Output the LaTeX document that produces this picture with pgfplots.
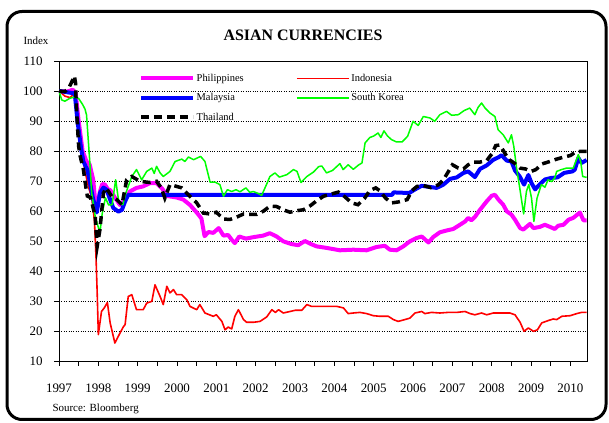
\documentclass[border=0pt]{standalone}
\usepackage{fontspec}
\setmainfont{Liberation Serif}
\usepackage{pgfplots}
\pgfplotsset{compat=1.18}
\definecolor{pmag}{RGB}{255,0,255}
\definecolor{ired}{RGB}{255,0,0}
\definecolor{mblue}{RGB}{0,0,255}
\definecolor{kgreen}{RGB}{0,255,0}
\begin{document}
\begin{tikzpicture}
\path[use as bounding box] (0,0) rectangle (609bp,423bp);
\draw[line width=3bp, rounded corners=15bp] (7bp,3.5bp) rectangle (606bp,411.5bp);
\node[font=\fontsize{16}{16}\selectfont\bfseries] at (303bp,388bp) {ASIAN CURRENCIES};
\node[font=\fontsize{11}{11}\selectfont] at (36bp,382bp) {Index};
\node[font=\fontsize{11}{11}\selectfont, anchor=west] at (49bp,14bp) {Source: Bloomberg};
\begin{axis}[
  at={(59bp,62bp)}, anchor=south west,
  scale only axis, width=528bp, height=300bp,
  xmin=1997, xmax=2010.42, ymin=10, ymax=110,
  axis line style={line width=0.8bp},
  xtick={1997,...,2010},
  xticklabels={1997,1998,1999,2000,2001,2002,2003,2004,2005,2006,2007,2008,2009,2010},
  minor xtick={1997.5,1998.5,1999.5,2000.5,2001.5,2002.5,2003.5,2004.5,2005.5,2006.5,2007.5,2008.5,2009.5},
  ytick={10,20,...,110},
  tick align=outside, major tick length=5bp, minor tick length=5bp,
  tick style={black, line width=0.7bp},
  xtick pos=bottom, ytick pos=left,
  ymajorgrids, major grid style={black, dotted, line width=0.6bp},
  /pgf/number format/assume math mode=true,
  tick label style={font=\fontsize{13}{13}\selectfont},
  xticklabel style={yshift=-14bp},
  yticklabel style={xshift=-8bp},
  legend cell align=left,
  legend columns=2,
  legend style={draw=none, fill=none, at={(0.1515,0.964)}, anchor=north west,
    inner sep=0pt, row sep=6.3bp,
    nodes={inner sep=1.5bp, text height=8bp, text depth=2bp, font=\fontsize{10.5}{10.5}\selectfont}},
  legend image code/.code={\draw[#1] (0bp,0bp) -- (52bp,0bp);},
]
% Philippines
\addplot[pmag, line width=4bp, line join=round] coordinates {
(1997.0,100)(1997.2,99.8)(1997.35,100.4)(1997.42,99.5)(1997.5,90)(1997.6,80)(1997.7,76.5)(1997.78,75.5)(1997.87,70.4)(1997.93,62)(1997.97,61)
(1998.04,66.5)(1998.1,69)(1998.17,68.8)(1998.25,67.1)(1998.3,67)(1998.42,64.5)(1998.55,62)(1998.68,63.8)(1998.8,66.5)(1998.97,67.7)
(1999.14,68.2)(1999.31,69.3)(1999.48,69.3)(1999.62,67.5)(1999.75,65)(1999.99,64.5)(2000.16,63.8)(2000.33,62)(2000.5,59.5)(2000.62,57.5)
(2000.7,51.6)(2000.8,53)(2000.92,52.7)(2001.06,54.3)(2001.18,51.8)(2001.3,52)(2001.39,50.4)(2001.47,49.3)(2001.58,51.5)(2001.75,50.8)
(2001.95,51.3)(2002.19,51.8)(2002.36,52.6)(2002.53,51.5)(2002.7,49.9)(2002.9,49)(2003.08,48.6)(2003.25,50)(2003.4,49)(2003.55,48.2)
(2003.8,47.7)(2004.14,46.9)(2004.48,47.1)(2004.82,46.9)(2005.07,48)(2005.28,48.4)(2005.41,47.1)(2005.58,46.9)(2005.75,48.2)(2005.92,49.9)
(2006.09,51)(2006.22,51.5)(2006.39,49.5)(2006.51,51.3)(2006.68,52.9)(2006.85,53.5)(2007.02,54)(2007.19,55.4)(2007.32,56.5)(2007.4,57.7)
(2007.48,56.9)(2007.57,58)(2007.7,60.4)(2007.87,63.2)(2008.0,65.1)(2008.08,65.4)(2008.17,63.8)(2008.29,62.1)(2008.38,59.9)(2008.5,58.8)
(2008.59,57.1)(2008.72,54.3)(2008.8,53.8)(2008.97,55.7)(2009.06,54.3)(2009.22,54.7)(2009.35,55.4)(2009.48,54.7)(2009.6,54)(2009.69,55.1)
(2009.82,55.4)(2009.95,57.1)(2010.07,57.7)(2010.24,59.5)(2010.33,56.9)(2010.41,56.9)};
\addlegendentry{\makebox[98bp][l]{Philippines}}
% Indonesia
\addplot[ired, line width=1.6bp, line join=round] coordinates {
(1997.0,100)(1997.15,98.3)(1997.28,97.8)(1997.37,98.9)(1997.42,98.5)(1997.53,84.4)(1997.66,73.3)(1997.75,68)(1997.83,64.5)(1997.9,57)
(1997.94,45)(1997.97,33)(1998.0,18.8)(1998.08,26.5)(1998.15,27.7)(1998.23,29.5)(1998.3,22.7)(1998.42,16)(1998.55,19.3)(1998.64,21.5)
(1998.68,22.1)(1998.76,31.5)(1998.85,32.1)(1998.97,27.1)(1999.14,27.1)(1999.23,29.3)(1999.36,29.9)(1999.44,35.4)(1999.57,31.5)(1999.65,28.8)
(1999.74,34.9)(1999.82,32.7)(1999.91,33.8)(1999.99,32.1)(2000.12,32.1)(2000.25,30.4)(2000.33,28.2)(2000.5,27.1)(2000.58,28.8)(2000.71,26)
(2000.92,24.9)(2001.0,25.4)(2001.14,23.2)(2001.22,20.4)(2001.3,21.3)(2001.39,20.7)(2001.47,24.9)(2001.56,27.1)(2001.69,23.8)(2001.77,22.9)
(2001.94,22.9)(2002.11,23.2)(2002.28,24.7)(2002.41,27.1)(2002.5,26.2)(2002.58,27.1)(2002.7,26)(2002.87,26.5)(2003.0,26.9)(2003.17,26.9)
(2003.3,28.8)(2003.42,28.2)(2003.55,28.2)(2003.8,28.2)(2004.06,28.2)(2004.23,27.7)(2004.35,25.8)(2004.48,26)(2004.65,26.2)(2004.82,25.8)
(2004.99,25.1)(2005.16,24.9)(2005.37,24.9)(2005.5,23.8)(2005.62,23.2)(2005.79,23.8)(2005.92,24.3)(2006.05,26)(2006.22,26.5)(2006.3,25.8)
(2006.47,26.2)(2006.68,26)(2006.89,26.2)(2007.11,26.2)(2007.32,26.5)(2007.45,25.8)(2007.57,25.4)(2007.74,26)(2007.87,25.4)(2008.04,26)
(2008.25,26)(2008.46,26)(2008.59,25.4)(2008.72,22.9)(2008.82,19.9)(2008.93,21)(2009.06,19.9)(2009.16,20.4)(2009.27,22.7)(2009.44,23.5)
(2009.56,24)(2009.65,23.8)(2009.78,24.9)(2009.99,25.1)(2010.16,25.8)(2010.28,26.2)(2010.41,26.2)};
\addlegendentry{Indonesia}
% Malaysia
\addplot[mblue, line width=4bp, line join=round] coordinates {
(1997.0,100)(1997.3,99.4)(1997.4,99.2)(1997.47,90)(1997.56,81)(1997.62,76.5)(1997.72,73.8)(1997.78,70)(1997.86,64.4)(1997.96,59.5)
(1998.04,66)(1998.13,67.8)(1998.21,67.1)(1998.3,63.8)(1998.38,61)(1998.51,59.8)(1998.6,60.4)(1998.68,63.2)(1998.76,65.4)(2005.47,65.4)
(2005.5,66.2)(2005.9,66.0)(2006.05,67.2)(2006.22,68.4)(2006.43,68)(2006.6,67.7)(2006.77,68.8)(2006.94,70.7)(2007.11,71.2)(2007.28,72.7)
(2007.4,73.2)(2007.57,71.3)(2007.7,74)(2007.87,75.2)(2008.04,77.1)(2008.17,77.9)(2008.25,78.6)(2008.38,76.8)(2008.5,76.5)(2008.59,73.5)
(2008.71,71.5)(2008.82,68.8)(2008.93,72)(2009.01,69.3)(2009.1,67.2)(2009.22,68.9)(2009.35,70.5)(2009.5,71)(2009.67,71.2)(2009.84,72.7)
(2010.05,73.2)(2010.11,73.8)(2010.2,77.7)(2010.28,76)(2010.41,77)};
\addlegendentry{\makebox[98bp][l]{Malaysia}}
% South Korea
\addplot[kgreen, line width=1.5bp, line join=round] coordinates {
(1997.0,100)(1997.07,97)(1997.15,96.6)(1997.28,97.6)(1997.4,98)(1997.5,97.5)(1997.6,95.5)(1997.66,94)(1997.7,92)(1997.74,84.4)
(1997.79,75)(1997.83,66)(1997.92,58.2)(1998.04,52.7)(1998.1,59.3)(1998.18,64.4)(1998.26,62)(1998.35,62.1)(1998.44,70.4)(1998.52,63)
(1998.62,62.1)(1998.7,66)(1998.85,71.5)(1998.97,73.8)(1999.1,70.4)(1999.23,73.2)(1999.36,74.3)(1999.42,72.5)(1999.48,74.9)(1999.57,72.7)
(1999.65,71.5)(1999.82,73.2)(1999.95,76.5)(2000.12,77.3)(2000.2,76.5)(2000.29,78)(2000.42,77.1)(2000.6,78.2)(2000.71,76.5)(2000.84,69.6)
(2000.97,69.6)(2001.09,68.8)(2001.18,64.9)(2001.28,67.1)(2001.39,66.5)(2001.5,67.1)(2001.6,66.4)(2001.75,67.7)(2001.85,66.2)(2001.94,66.5)
(2002.07,65.8)(2002.15,65.2)(2002.28,69)(2002.36,71.5)(2002.49,72.7)(2002.6,71.3)(2002.79,72.1)(2002.96,73.8)(2003.05,73.2)(2003.15,69.5)
(2003.3,71.5)(2003.47,73)(2003.6,74.8)(2003.68,75)(2003.8,72.7)(2003.95,73.5)(2004.14,75.8)(2004.22,73.8)(2004.35,75.4)(2004.48,73.9)
(2004.62,75.4)(2004.7,76)(2004.78,82.7)(2004.9,84.5)(2005.0,85)(2005.11,86)(2005.18,84.5)(2005.26,86.7)(2005.35,85)(2005.45,83.8)
(2005.58,83)(2005.72,83)(2005.86,84.9)(2006.0,89.9)(2006.13,88.5)(2006.26,91.5)(2006.43,91)(2006.55,89.9)(2006.68,92.1)(2006.85,93.2)
(2006.98,91.9)(2007.15,92.1)(2007.3,93.5)(2007.44,94.3)(2007.57,92.1)(2007.65,94.5)(2007.74,96)(2007.83,94.3)(2007.95,92.7)(2008.08,91.5)
(2008.16,87.1)(2008.29,85.4)(2008.42,82.7)(2008.5,85.4)(2008.56,81.5)(2008.63,74.3)(2008.71,67.7)(2008.81,59)(2008.88,66.5)(2008.94,68.8)
(2009.01,64.3)(2009.07,56.5)(2009.15,64.3)(2009.26,68.8)(2009.35,67.9)(2009.43,70.4)(2009.52,69.8)(2009.6,71)(2009.65,73.2)(2009.77,73.8)
(2009.9,74.3)(2010.07,74.3)(2010.2,78.8)(2010.26,76.5)(2010.31,71.5)(2010.41,71.2)};
\addlegendentry{South Korea}
% Thailand
\addplot[black, line width=3.5bp, dash pattern=on 8bp off 5bp] coordinates {
(1997.0,100)(1997.15,99.8)(1997.25,101)(1997.33,103.2)(1997.39,105)(1997.42,102.7)(1997.43,98.5)(1997.46,90.4)(1997.5,81.5)(1997.54,78.2)
(1997.62,73.8)(1997.68,68.2)(1997.72,65)(1997.8,64.5)(1997.85,62)(1997.92,58.2)(1997.97,48.2)(1998.04,53.8)(1998.13,66)(1998.2,67.7)
(1998.34,64.9)(1998.47,63.8)(1998.6,62.1)(1998.72,70.4)(1998.85,71.5)(1999.06,69.9)(1999.31,69.5)(1999.48,69.9)(1999.6,67.7)(1999.69,64.3)
(1999.82,68.8)(1999.99,68.2)(2000.12,67.7)(2000.29,65.4)(2000.5,62.7)(2000.67,59.3)(2000.84,59)(2001.0,59.6)(2001.18,57.3)(2001.35,57.2)
(2001.52,58)(2001.69,59)(2001.86,58.9)(2002.03,58.9)(2002.19,59.9)(2002.36,61.6)(2002.53,61.5)(2002.7,60.4)(2002.87,59.6)(2003.04,60.1)
(2003.21,60.4)(2003.38,61.7)(2003.55,63.4)(2003.72,64.9)(2003.85,65.4)(2004.1,66.3)(2004.25,64.9)(2004.44,62.7)(2004.6,62.1)(2004.77,64.3)
(2004.9,66.8)(2005.05,67.7)(2005.15,66.8)(2005.3,64.3)(2005.45,62.7)(2005.62,63)(2005.85,63.8)(2005.97,66.8)(2006.1,68.2)(2006.26,68.5)
(2006.45,67.8)(2006.64,68.7)(2006.77,70.4)(2006.89,73)(2007.0,75.4)(2007.15,74.3)(2007.28,74)(2007.4,75.4)(2007.53,76.3)(2007.7,76.3)
(2007.87,76.8)(2008.0,79)(2008.1,81.8)(2008.2,82)(2008.3,80)(2008.42,77.3)(2008.57,76)(2008.72,74.3)(2008.86,74)(2009.0,73.2)
(2009.12,73.8)(2009.28,75.7)(2009.45,76.4)(2009.65,77.3)(2009.84,78)(2010.0,78.5)(2010.13,79.7)(2010.28,79.9)(2010.41,79.9)};
\addlegendentry{Thailand}
\end{axis}
\end{tikzpicture}
\end{document}
